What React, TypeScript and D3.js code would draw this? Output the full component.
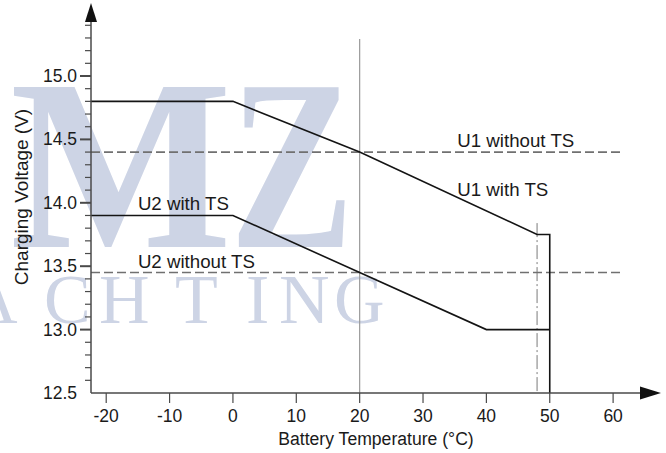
import React, { useEffect, useRef } from 'react';
import * as d3 from 'd3';

// data (temperature °C, voltage V)
const u1WithTS: Array<[number, number]> = [[-22.4, 14.8], [0, 14.8], [20, 14.4], [48, 13.75], [50, 13.75], [50, 12.5]];
const u2WithTS: Array<[number, number]> = [[-22.4, 13.9], [0, 13.9], [20, 13.45], [40, 13.0], [50, 13.0]];
const u1WithoutTS = 14.4;
const u2WithoutTS = 13.45;
const xTicks = [-20, -10, 0, 10, 20, 30, 40, 50, 60];
const yMajor = [12.5, 13.0, 13.5, 14.0, 14.5, 15.0];
const yMinor = d3.range(126, 155).map((v) => v / 10);

const labels = [
  { text: 'U1 without TS', t: 35.4, v: 14.4, dy: -5 },
  { text: 'U1 with TS', t: 35.4, v: 14.05, dy: 0 },
  { text: 'U2 with TS', t: -15.0, v: 13.9, dy: -5 },
  { text: 'U2 without TS', t: -15.0, v: 13.45, dy: -5 },
];

const width = 666;
const height = 453;

export default function App() {
  const svgRef = useRef<SVGSVGElement>(null);

  useEffect(() => {
    if (!svgRef.current) return;
    const svg = d3.select(svgRef.current);
    svg.selectAll('*').remove();

    const x = d3.scaleLinear().domain([-22.4, 67.4]).range([91, 660]);
    const y = d3.scaleLinear().domain([12.5, 15.0]).range([393, 76]);
    const font = 'Liberation Sans, Arial, Helvetica, sans-serif';

    // watermark
    const wm = svg.append('g').attr('fill', '#cdd4e5').attr('font-family', 'Liberation Serif, Times New Roman, serif');
    wm.append('text').attr('x', 10).attr('y', 247).attr('font-size', 244).attr('font-weight', 'bold')
      .attr('textLength', 222).attr('lengthAdjust', 'spacingAndGlyphs').text('M');
    wm.append('text').attr('x', 230).attr('y', 247).attr('font-size', 244).attr('font-weight', 'bold')
      .attr('textLength', 124).attr('lengthAdjust', 'spacingAndGlyphs').text('Z');
    wm.append('text').attr('y', 323).attr('font-size', 70)
      .attr('x', '-33 44 99 175 246 279 334').text('ACHTING');

    // reference lines
    svg.append('line')
      .attr('x1', x(20)).attr('x2', x(20)).attr('y1', 39).attr('y2', y(12.5))
      .attr('stroke', '#9a9a9a').attr('stroke-width', 1.2);
    svg.append('line')
      .attr('x1', x(48)).attr('x2', x(48)).attr('y1', y(13.84)).attr('y2', y(12.5))
      .attr('stroke', '#7a7a7a').attr('stroke-width', 1)
      .attr('stroke-dasharray', '14,3,2,3');

    [u1WithoutTS, u2WithoutTS].forEach((v) => {
      svg.append('line')
        .attr('x1', x(-22.4)).attr('x2', x(61.6)).attr('y1', y(v)).attr('y2', y(v))
        .attr('stroke', '#707070').attr('stroke-width', 1.6)
        .attr('stroke-dasharray', '9,4');
    });

    // curves
    const line = d3.line<[number, number]>().x((d) => x(d[0])).y((d) => y(d[1]));
    [u1WithTS, u2WithTS].forEach((data) => {
      svg.append('path')
        .attr('d', line(data))
        .attr('fill', 'none')
        .attr('stroke', '#141414')
        .attr('stroke-width', 1.6);
    });

    // axes
    const axisColor = '#4a4a4a';
    svg.append('line')
      .attr('x1', 91).attr('x2', 91).attr('y1', 20).attr('y2', y(12.5))
      .attr('stroke', axisColor).attr('stroke-width', 1.5);
    svg.append('path').attr('d', 'M91,3 L85,22 L97,22 Z').attr('fill', '#111');
    svg.append('line')
      .attr('x1', 91).attr('x2', 642).attr('y1', y(12.5)).attr('y2', y(12.5))
      .attr('stroke', axisColor).attr('stroke-width', 1.5);
    svg.append('path').attr('d', `M661,${y(12.5)} L640,${y(12.5) - 6.5} L640,${y(12.5) + 6.5} Z`).attr('fill', '#111');

    const isMajor = (d: number) => yMajor.some((m) => Math.abs(m - d) < 1e-6);
    svg.append('g').selectAll('line').data(yMinor).enter().append('line')
      .attr('x1', (d) => (isMajor(d) ? 80 : 85))
      .attr('x2', 91)
      .attr('y1', (d) => y(d)).attr('y2', (d) => y(d))
      .attr('stroke', axisColor)
      .attr('stroke-width', (d) => (isMajor(d) ? 2 : 1.2));

    svg.append('g').selectAll('text').data(yMajor).enter().append('text')
      .attr('x', 77).attr('y', (d) => y(d) + 6)
      .attr('text-anchor', 'end')
      .attr('font-family', font).attr('font-size', 17.5).attr('fill', '#1a1a1a')
      .text((d) => d.toFixed(1));

    svg.append('g').selectAll('line').data(xTicks).enter().append('line')
      .attr('x1', (d) => x(d)).attr('x2', (d) => x(d))
      .attr('y1', y(12.5)).attr('y2', y(12.5) + 10)
      .attr('stroke', axisColor).attr('stroke-width', 1.2);

    svg.append('g').selectAll('text').data(xTicks).enter().append('text')
      .attr('x', (d) => x(d)).attr('y', 422)
      .attr('text-anchor', 'middle')
      .attr('font-family', font).attr('font-size', 17.5).attr('fill', '#1a1a1a')
      .text((d) => String(d));

    svg.append('text')
      .attr('x', 376).attr('y', 445)
      .attr('text-anchor', 'middle')
      .attr('font-family', font).attr('font-size', 17.6).attr('fill', '#1a1a1a')
      .text('Battery Temperature (°C)');

    svg.append('text')
      .attr('transform', 'translate(28,197) rotate(-90)')
      .attr('text-anchor', 'middle')
      .attr('font-family', font).attr('font-size', 19).attr('fill', '#1a1a1a')
      .text('Charging Voltage (V)');

    // series labels
    svg.append('g').selectAll('text').data(labels).enter().append('text')
      .attr('x', (d) => x(d.t)).attr('y', (d) => y(d.v) + d.dy)
      .attr('font-family', font).attr('font-size', 18.7).attr('fill', '#1a1a1a')
      .text((d) => d.text);
  }, []);

  return (
    <div style={{ position: 'absolute', left: 0, top: 0, background: '#fff' }}>
      <svg ref={svgRef} width={width} height={height} />
    </div>
  );
}
